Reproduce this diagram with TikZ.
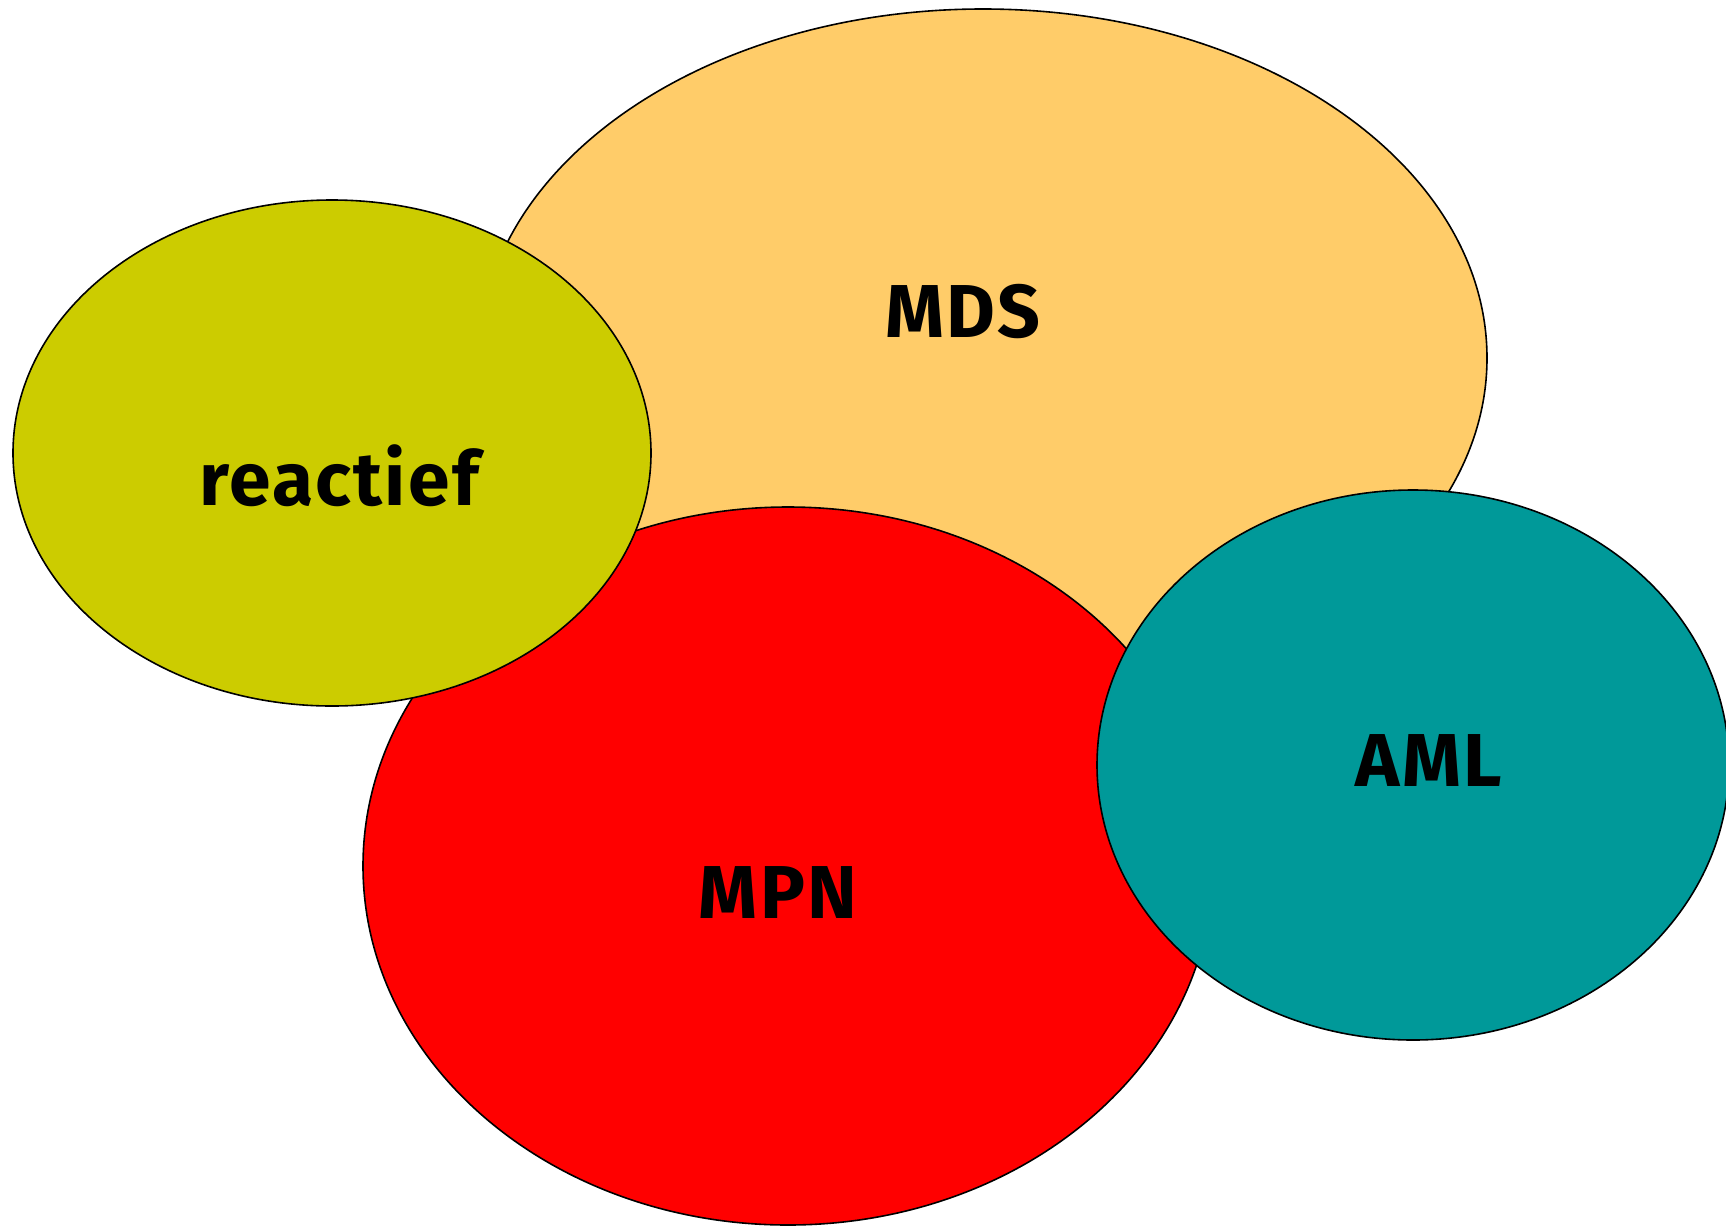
\documentclass[tikz,border=0pt]{standalone}
\usepackage{fontspec}
\setmainfont{Fira Sans}[LetterSpace=3]
\usetikzlibrary{shapes.geometric}
\definecolor{mdsc}{HTML}{FFCC69}
\definecolor{reac}{HTML}{CCCC00}
\definecolor{mpnc}{HTML}{FF0000}
\definecolor{amlc}{HTML}{009999}
\begin{document}
\begin{tikzpicture}[x=1pt,y=1pt,
  blob/.style={ellipse,draw=black,line width=1.6pt,inner sep=0pt},
  lab/.style={font=\fontsize{75}{85}\selectfont\bfseries,text=black}]
\useasboundingbox (0,0) rectangle (1726,-1229);
\clip (0,0) rectangle (1726,-1229);
\node[blob,fill=mdsc,minimum width=1008,minimum height=698] (mds) at (983,-358) {};
\node[blob,fill=mpnc,minimum width=850,minimum height=718] (mpn) at (788,-866) {};
\node[blob,fill=reac,minimum width=638,minimum height=506] (rea) at (332,-453) {};
\node[blob,fill=amlc,minimum width=632,minimum height=550] (aml) at (1413,-765) {};
\node[lab] (tmds) at (963,-312) {MDS};
\node[lab] (trea) at (339,-476) {reactief};
\node[lab] (tmpn) at (778,-892) {MPN};
\node[lab] (taml) at (1429,-760) {AML};
\end{tikzpicture}
\end{document}
